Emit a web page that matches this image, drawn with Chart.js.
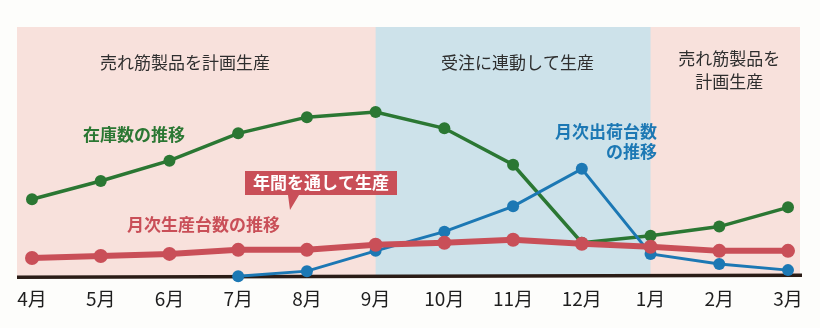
<!DOCTYPE html>
<html lang="ja">
<head>
<meta charset="utf-8">
<title>在庫数と生産・出荷台数の推移</title>
<script src="https://cdn.jsdelivr.net/npm/chart.js@4.4.1/dist/chart.umd.min.js"></script>
<style>
  html, body { margin: 0; padding: 0; background: #fdfdfb; }
  #chart { display: block; }
</style>
</head>
<body>
<canvas id="chart" width="820" height="328"></canvas>
<script>
const months = ["4月", "5月", "6月", "7月", "8月", "9月", "10月", "11月", "12月", "1月", "2月", "3月"];

// 在庫数
const inventory = [76, 94, 114, 141, 157, 162, 146, 110, 33, 40, 49, 68];
// 月次生産台数
const production = [18, 20, 22, 26, 26, 31, 33, 36, 32, 29, 25, 25];
// 月次出荷台数（7月から）
const shipments = [null, null, null, 0, 5, 25, 44, 69, 106, 22, 12, 6];

// 生産方式の区切り（月のインデックス）
const periods = [
  { from: null, to: 5, color: "#f8e1dc", lines: ["売れ筋製品を計画生産"] },
  { from: 5, to: 9, color: "#cde2ea", lines: ["受注に連動して生産"] },
  { from: 9, to: null, color: "#f8e1dc", lines: ["売れ筋製品を", "計画生産"] },
];

const FONT = "'Noto Sans CJK JP', 'Noto Sans', sans-serif";
const GREEN = "#2b7733";
const RED = "#c94f58";
const BLUE = "#1c78b4";

const bandsPlugin = {
  id: "bands",
  beforeDatasetsDraw(chart) {
    const { ctx, chartArea, scales } = chart;
    const x = scales.x;
    const left = chartArea.left - 15;
    const right = chartArea.right + 12;
    ctx.save();
    periods.forEach((p) => {
      const x0 = p.from === null ? left : x.getPixelForValue(p.from);
      const x1 = p.to === null ? right : x.getPixelForValue(p.to) + 3;
      ctx.fillStyle = p.color;
      ctx.fillRect(x0, chartArea.top, x1 - x0, chartArea.bottom - chartArea.top);

      ctx.fillStyle = "#2e2e2e";
      ctx.font = `17px ${FONT}`;
      ctx.textAlign = "center";
      ctx.textBaseline = "middle";
      const cx = p.from === null ? 185 : (x0 + x1) / 2 + (p.to === null ? 4 : 3);
      p.lines.forEach((line, i) => {
        const y = p.lines.length > 1 ? 59 + i * 23 : 63;
        ctx.fillText(line, cx, y);
      });
    });

    // 横軸の線
    ctx.strokeStyle = "#2a1c16";
    ctx.lineWidth = 3.5;
    ctx.beginPath();
    ctx.moveTo(left, chartArea.bottom + 1);
    ctx.lineTo(right + 2, chartArea.bottom - 1);
    ctx.stroke();
    ctx.restore();
  },
  afterDatasetsDraw(chart) {
    const { ctx } = chart;
    ctx.save();
    ctx.textBaseline = "middle";
    ctx.font = `bold 17px ${FONT}`;

    ctx.fillStyle = GREEN;
    ctx.textAlign = "left";
    ctx.fillText("在庫数の推移", 83, 135);

    ctx.fillStyle = BLUE;
    ctx.textAlign = "right";
    ctx.fillText("月次出荷台数", 657, 132);
    ctx.fillText("の推移", 657, 152);

    ctx.fillStyle = RED;
    ctx.textAlign = "left";
    ctx.fillText("月次生産台数の推移", 127, 225);

    // 吹き出し
    ctx.fillStyle = RED;
    ctx.beginPath();
    ctx.moveTo(245, 171);
    ctx.lineTo(397, 171);
    ctx.lineTo(397, 195);
    ctx.lineTo(299, 195);
    ctx.lineTo(290, 210);
    ctx.lineTo(288, 195);
    ctx.lineTo(245, 195);
    ctx.closePath();
    ctx.fill();
    ctx.fillStyle = "#fff";
    ctx.textAlign = "center";
    ctx.fillText("年間を通して生産", 321, 183);
    ctx.restore();
  },
};

const ctx = document.getElementById("chart").getContext("2d");
const chart = new Chart(ctx, {
  type: "line",
  data: {
    labels: months,
    datasets: [
      {
        label: "月次生産台数",
        data: production,
        borderColor: RED,
        backgroundColor: RED,
        borderWidth: 6,
        pointRadius: 7,
        pointBorderWidth: 0,
        clip: false,
      },
      {
        label: "月次出荷台数",
        data: shipments,
        borderColor: BLUE,
        backgroundColor: BLUE,
        borderWidth: 3,
        pointRadius: 6,
        pointBorderWidth: 0,
        clip: false,
      },
      {
        label: "在庫数",
        data: inventory,
        borderColor: GREEN,
        backgroundColor: GREEN,
        borderWidth: 3.5,
        pointRadius: 6,
        pointBorderWidth: 0,
        clip: false,
      },
    ],
  },
  options: {
    responsive: false,
    animation: false,
    devicePixelRatio: 1,
    layout: {
      padding: { top: 27, left: 32, right: 32, bottom: 15 },
    },
    plugins: {
      legend: { display: false },
      tooltip: { enabled: false },
    },
    scales: {
      x: {
        offset: false,
        grid: { display: false },
        border: { display: false },
        ticks: {
          color: "#1e1e1e",
          padding: 3,
          maxRotation: 0,
          autoSkip: false,
          font: { family: FONT, size: 19 },
        },
      },
      y: {
        display: false,
        min: 0,
        max: 246,
      },
    },
  },
  plugins: [bandsPlugin],
});
</script>
</body>
</html>
